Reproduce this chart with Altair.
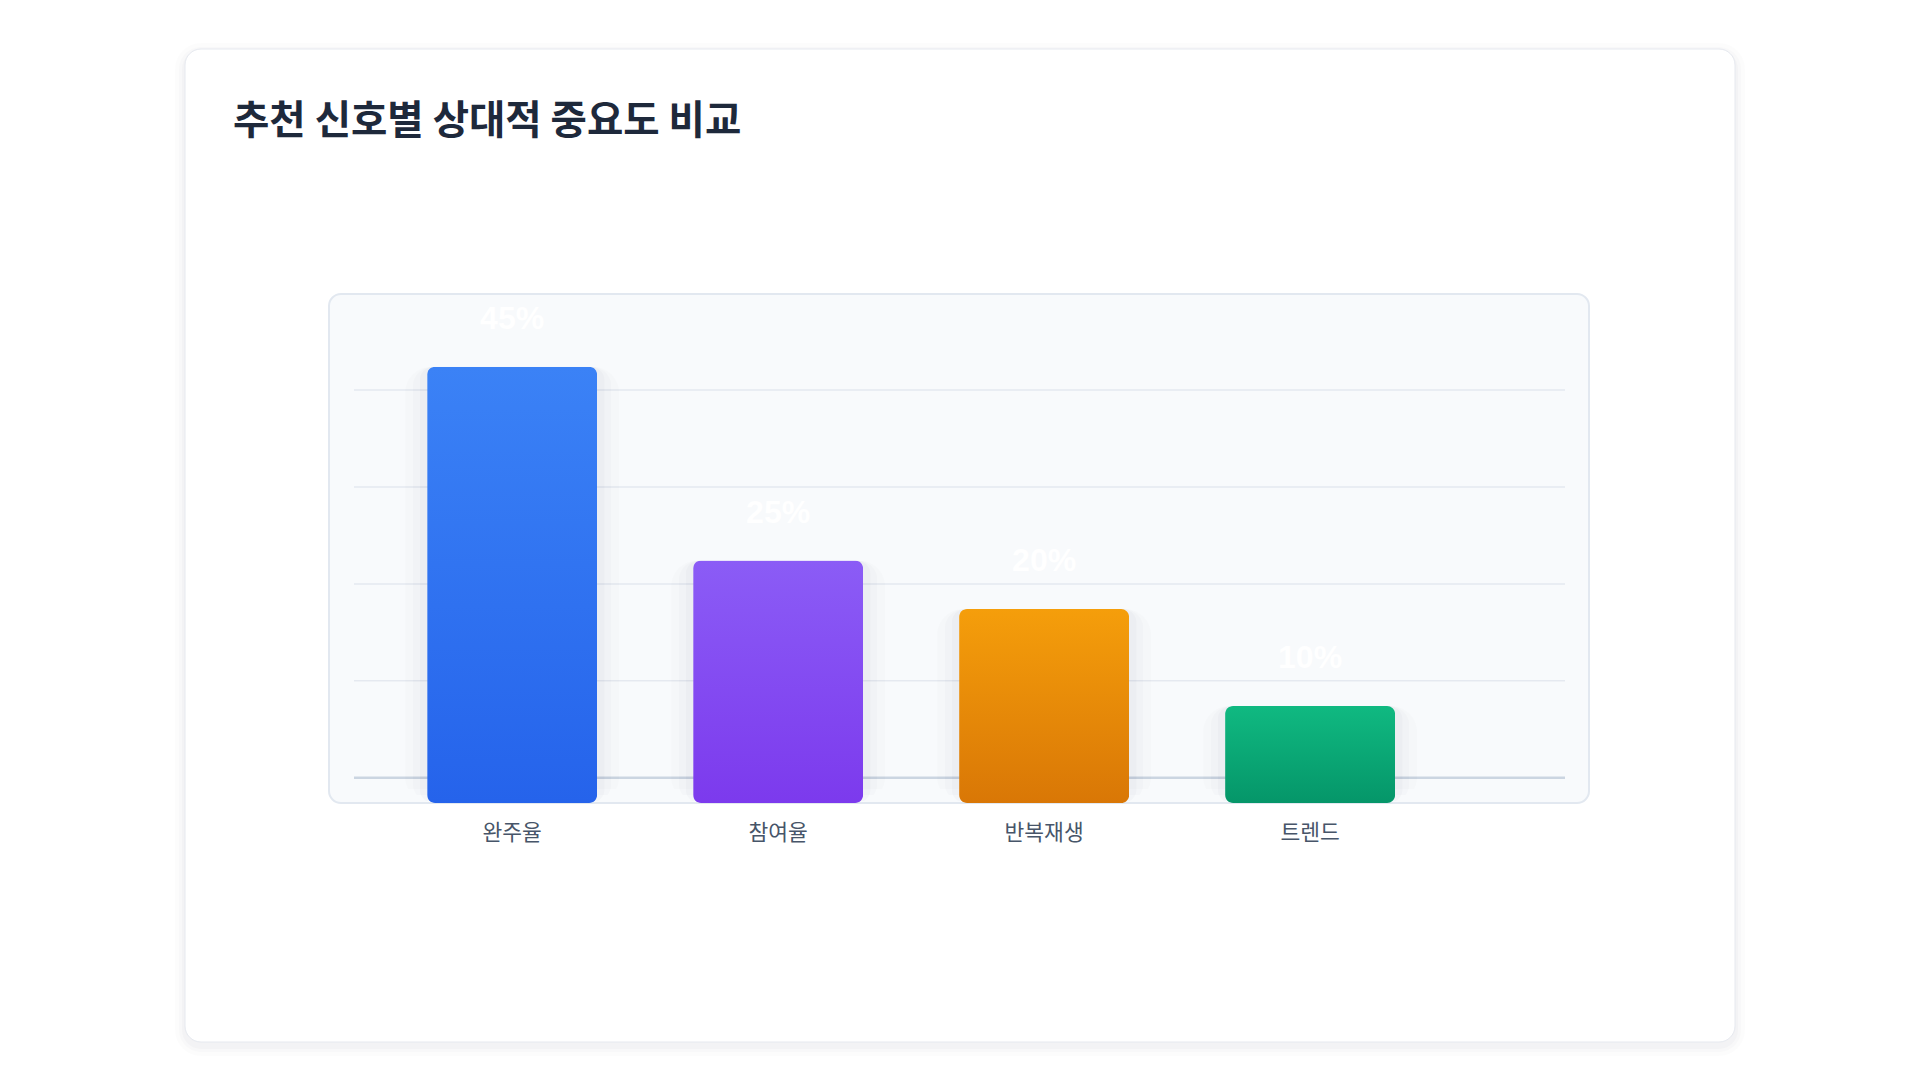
import altair as alt
import pandas as pd

# ---- data ----
categories = ["완주율", "참여율", "반복재생", "트렌드"]
values = [45, 25, 20, 10]
grid_values = [2.6, 12.6, 22.6, 32.6, 42.6]
grid_kinds = ["base", "grid", "grid", "grid", "grid"]
title_text = "추천 신호별 상대적 중요도 비교"

# ---- styles ----
gradient_colors = {
    "완주율": ("#3b82f6", "#2563eb"),
    "참여율": ("#8b5cf6", "#7c3aed"),
    "반복재생": ("#f59e0b", "#d97706"),
    "트렌드": ("#10b981", "#059669"),
}
W, H = 1260, 509
Y_MAX = 52.5
KFONT = "Noto Sans CJK KR"

df = pd.DataFrame({"category": categories, "value": values})
grid_df = pd.DataFrame({"g": grid_values, "kind": grid_kinds})
one = pd.DataFrame({"k": [0]})

x_scale = alt.Scale(domain=categories, paddingInner=0.361, paddingOuter=0.549, align=0.336)
y_scale = alt.Scale(domain=[0, Y_MAX], nice=False, zero=True)

x_enc = alt.X(
    "category:N",
    scale=x_scale,
    sort=categories,
    axis=alt.Axis(
        title=None, labelAngle=0, labelFont=KFONT, labelFontSize=21.5,
        labelColor="#475569", labelPadding=19, domain=False, ticks=False, grid=False,
        zindex=1,
    ),
)
y_enc = alt.Y("value:Q", scale=y_scale, axis=None)

layers = []

# card shadow + card
for grow, op in [(10, 0.012), (6, 0.015), (3, 0.018)]:
    layers.append(
        alt.Chart(one).mark_rect(color="#0f172a", opacity=op, cornerRadius=16 + grow).encode(
            x=alt.value(-144 - grow), x2=alt.value(1406 + grow),
            y=alt.value(-245 - grow + 4), y2=alt.value(748 + grow + 4),
        )
    )
layers.append(
    alt.Chart(one).mark_rect(fill="white", stroke="#e6e9ef", strokeWidth=1, cornerRadius=16).encode(
        x=alt.value(-144), x2=alt.value(1406), y=alt.value(-245), y2=alt.value(748)
    )
)

# inner panel
layers.append(
    alt.Chart(one).mark_rect(fill="#f8fafc", stroke="#e2e8f0", strokeWidth=2, cornerRadius=12).encode(
        x=alt.value(0), x2=alt.value(W), y=alt.value(0), y2=alt.value(H)
    )
)

# gridlines
layers.append(
    alt.Chart(grid_df).transform_filter(alt.datum.kind == "grid").mark_rule(
        color="#e5e9f0", strokeWidth=1.5
    ).encode(x=alt.value(25), x2=alt.value(1236), y=alt.Y("g:Q", scale=y_scale, axis=None))
)
layers.append(
    alt.Chart(grid_df).transform_filter(alt.datum.kind == "base").mark_rule(
        color="#cbd5e1", strokeWidth=2.5
    ).encode(x=alt.value(25), x2=alt.value(1236), y=alt.Y("g:Q", scale=y_scale, axis=None))
)

# bar shadows
for band, grow, op in [(1.26, 18, 0.012), (1.17, 12, 0.016), (1.09, 6, 0.02)]:
    layers.append(
        alt.Chart(df).mark_bar(
            color="#0f172a", opacity=op, cornerRadius=8 + grow,
            width=alt.RelativeBandSize(band), yOffset=-grow + 4, y2Offset=grow + 4,
        ).encode(x=x_enc, y=y_enc)
    )

# bars with gradients
for cat in categories:
    top, bottom = gradient_colors[cat]
    grad = alt.LinearGradient(
        gradient="linear",
        stops=[alt.GradientStop(color=top, offset=0), alt.GradientStop(color=bottom, offset=1)],
        x1=0, x2=0, y1=0, y2=1,
    )
    layers.append(
        alt.Chart(df).transform_filter(alt.datum.category == cat).mark_bar(
            color=grad, cornerRadius=8
        ).encode(x=x_enc, y=y_enc)
    )

# value labels
layers.append(
    alt.Chart(df).transform_calculate(label="datum.value + '%'").mark_text(
        font="Liberation Sans", fontSize=32, fontWeight="bold", color="#ffffff",
        baseline="middle", dy=-48,
    ).encode(x=x_enc, y=y_enc, text="label:N")
)

# title
layers.append(
    alt.Chart(one).mark_text(
        text=title_text, align="left", baseline="middle", font=KFONT,
        fontSize=39.5, fontWeight=600, color="#1e293b",
    ).encode(x=alt.value(-96), y=alt.value(-172))
)

chart = alt.layer(*layers).properties(
    width=W, height=H,
    autosize=alt.AutoSizeParams(type="none"),
    padding={"left": 321, "top": 286, "right": 322, "bottom": 276},
    background="white",
).configure_view(stroke=None)

chart.save("out.html", embed_options={"renderer": "svg", "actions": False})
